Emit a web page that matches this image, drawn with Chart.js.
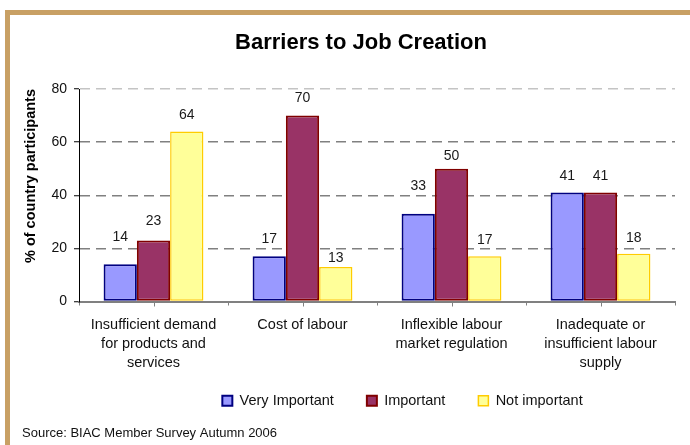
<!DOCTYPE html>
<html>
<head>
<meta charset="utf-8">
<title>Barriers to Job Creation</title>
<script src="https://cdn.jsdelivr.net/npm/chart.js@4.4.1/dist/chart.umd.min.js"></script>
<style>
  html, body { margin: 0; padding: 0; background: #ffffff; }
  #wrap { position: relative; width: 690px; height: 445px; overflow: hidden; }
  #frame {
    position: absolute; left: 5px; top: 10px; right: -20px; bottom: -20px;
    border-left: 5px solid #C8A064; border-top: 5px solid #C8A064;
  }
  #c { position: absolute; left: 0; top: 0; }
</style>
</head>
<body>
<div id="wrap">
  <div id="frame"></div>
  <canvas id="c" width="690" height="445"></canvas>
</div>
<script>
// ---- chart data ----
const categories = [
  ["Insufficient demand", "for products and", "services"],
  ["Cost of labour"],
  ["Inflexible labour", "market regulation"],
  ["Inadequate or", "insufficient labour", "supply"]
];
const seriesNames = ["Very Important", "Important", "Not important"];
const veryImportant = [14, 17, 33, 41];
const important = [23, 70, 50, 41];
const notImportant = [64, 13, 17, 18];
const yTickValues = [0, 20, 40, 60, 80];

const chartTitle = "Barriers to Job Creation";
const yAxisTitle = "% of country participants";
const sourceNote = "Source: BIAC Member Survey Autumn 2006";

// ---- label placement (px above each bar top, per series / category) ----
const labelRise = [
  [27, 17, 28, 16],
  [19, 17, 13, 16],
  [16, 9, 16, 16]
];
const legendShiftX = 57;
const legendShiftY = -22;

const FONT = '"Liberation Sans", Arial, Helvetica, sans-serif';

// numbers printed above the bars
const valueLabels = {
  id: 'valueLabels',
  afterDatasetsDraw(chart) {
    const ctx = chart.ctx;
    ctx.save();
    ctx.font = '14px ' + FONT;
    ctx.fillStyle = '#1a1a1a';
    ctx.textAlign = 'center';
    ctx.textBaseline = 'middle';
    chart.data.datasets.forEach((ds, di) => {
      chart.getDatasetMeta(di).data.forEach((bar, i) => {
        ctx.fillText(String(ds.data[i]), bar.x, bar.y - labelRise[di][i]);
      });
    });
    ctx.restore();
  }
};

// short tick marks under the centre of each category
const centreTicks = {
  id: 'centreTicks',
  afterDraw(chart) {
    const xs = chart.scales.x;
    const ctx = chart.ctx;
    ctx.save();
    ctx.strokeStyle = '#808080';
    ctx.lineWidth = 1;
    categories.forEach((_, i) => {
      const px = Math.round(xs.getPixelForValue(i)) + 0.5;
      ctx.beginPath();
      ctx.moveTo(px, xs.top);
      ctx.lineTo(px, xs.top + 5);
      ctx.stroke();
    });
    ctx.restore();
  }
};

// heading and source line
const captions = {
  id: 'captions',
  afterDraw(chart) {
    const ctx = chart.ctx;
    ctx.save();
    ctx.fillStyle = '#000000';
    ctx.textBaseline = 'middle';
    ctx.textAlign = 'center';
    ctx.font = 'bold 22px ' + FONT;
    ctx.fillText(chartTitle, chart.width / 2 + 16, 43);
    ctx.textAlign = 'left';
    ctx.font = '13px ' + FONT;
    ctx.fillStyle = '#111111';
    ctx.fillText(sourceNote, 22, 433);
    ctx.restore();
  }
};

// move the legend row under the plot
const legendNudge = {
  id: 'legendNudge',
  afterLayout(chart) {
    const lg = chart.legend;
    if (lg) {
      lg.left += legendShiftX;
      lg.right += legendShiftX;
      lg.top += legendShiftY;
      lg.bottom += legendShiftY;
    }
  }
};

const barStyle = [
  { bg: '#9999FF', border: '#000080', w: 2 },
  { bg: '#993366', border: '#800000', w: 2 },
  { bg: '#FFFF99', border: '#FFCC00', w: 1.5 }
];
const seriesValues = [veryImportant, important, notImportant];

new Chart(document.getElementById('c'), {
  type: 'bar',
  data: {
    labels: categories,
    datasets: seriesValues.map((vals, i) => ({
      label: seriesNames[i],
      data: vals,
      backgroundColor: barStyle[i].bg,
      borderColor: barStyle[i].border,
      borderWidth: barStyle[i].w,
      borderSkipped: false,
      barPercentage: 1.0,
      categoryPercentage: 0.67
    }))
  },
  options: {
    responsive: false,
    animation: false,
    devicePixelRatio: 1,
    layout: { padding: { left: 16, right: 15, top: 89, bottom: 5 } },
    plugins: {
      title: { display: false },
      tooltip: { enabled: false },
      legend: {
        display: true,
        position: 'bottom',
        labels: {
          boxWidth: 10,
          boxHeight: 10,
          padding: 33,
          color: '#111111',
          font: { family: FONT, size: 14.5 }
        }
      }
    },
    scales: {
      x: {
        offset: true,
        grid: {
          display: true,
          drawOnChartArea: false,
          offset: true,
          tickLength: 4,
          color: '#808080'
        },
        border: { display: true, color: '#808080', width: 2 },
        ticks: {
          color: '#111111',
          padding: 10,
          maxRotation: 0,
          autoSkip: false,
          font: { family: FONT, size: 14.5, lineHeight: 1.31 }
        }
      },
      y: {
        min: 0,
        max: 80,
        afterBuildTicks(scale) { scale.ticks = yTickValues.map(v => ({ value: v })); },
        grid: {
          color: (c) => c.tick && c.tick.value === 80 ? '#c4c4c4'
                      : (c.tick && c.tick.value === 0 ? 'rgba(0,0,0,0)' : '#808080'),
          lineWidth: 1.5,
          tickLength: 5,
          tickColor: '#000000',
          tickWidth: 1
        },
        border: { display: true, color: '#000000', width: 1, dash: [10, 6] },
        ticks: {
          color: '#111111',
          padding: 7,
          font: { family: FONT, size: 14 }
        },
        title: {
          display: true,
          text: yAxisTitle,
          align: 'end',
          color: '#000000',
          padding: { top: 6, bottom: 4 },
          font: { family: FONT, size: 14.5, weight: 'bold' }
        },
        afterFit(scale) { scale.width = 63; }
      }
    }
  },
  plugins: [legendNudge, valueLabels, centreTicks, captions]
});
</script>
</body>
</html>
